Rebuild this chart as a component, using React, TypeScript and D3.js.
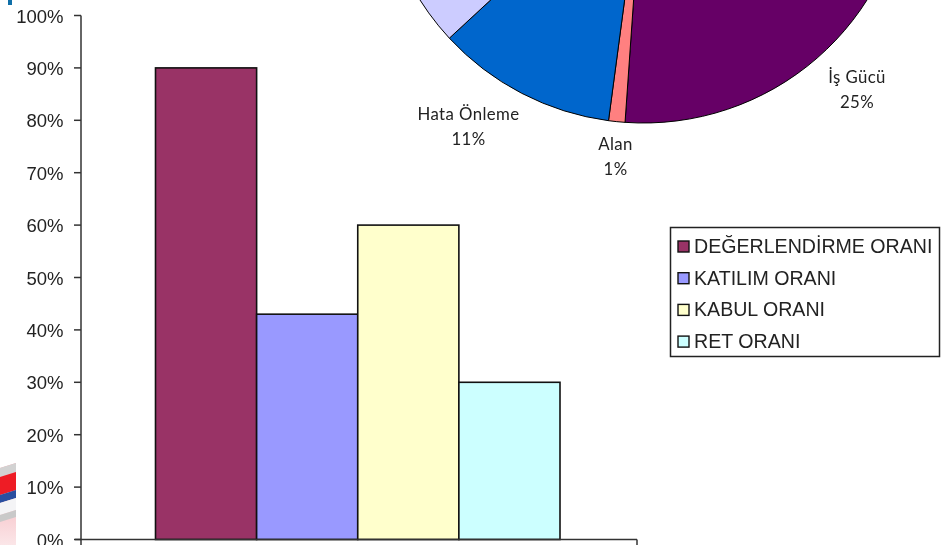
import React from "react";
import * as d3 from "d3";

const seriesNames = ["DEĞERLENDİRME ORANI", "KATILIM ORANI", "KABUL ORANI", "RET ORANI"];
const seriesValues = [90, 43, 60, 30];
const seriesColors = ["#993366", "#9999ff", "#ffffcc", "#ccffff"];
const yTicks = [0, 10, 20, 30, 40, 50, 60, 70, 80, 90, 100];

const pieNames = ["İş Gücü", "Alan", "Hata Önleme", "Diğer"];
const pieValues = [25, 1, 11, 63];
const pieColors = ["#660066", "#ff8080", "#0066cc", "#ccccff"];
const pieLabelled = [true, true, true, false];
const pieLabelPos: [number, number][] = [[857, 78], [615.5, 145], [468.5, 115], [0, 0]];

const FONT = "'Liberation Sans', Arial, sans-serif";
const PIE_FONT = "Lato, Carlito, sans-serif";

export default function App() {
  const y = d3.scaleLinear().domain([0, 100]).range([539.5, 15.5]);
  const x = d3.scaleBand<string>().domain(seriesNames).range([155.5, 560]).paddingInner(0);

  const deg = Math.PI / 180;
  const pie = d3.pie<number>().sort(null).startAngle(94 * deg).endAngle(454 * deg);
  const arcs = pie(pieValues);
  const arc = d3.arc<d3.PieArcDatum<number>>().innerRadius(0).outerRadius(264.6);

  return (
    <svg width={942} height={545} style={{ position: "fixed", left: 0, top: 0, background: "#fff" }}>
      <defs>
        <filter id="soft" x="-5%" y="-5%" width="110%" height="110%">
          <feGaussianBlur stdDeviation="0.4" />
        </filter>
        <linearGradient id="pinkFade" x1="0" y1="0" x2="0" y2="1">
          <stop offset="0" stopColor="#f4a6ae" />
          <stop offset="1" stopColor="#fbe6e8" />
        </linearGradient>
      </defs>

      {/* background logo fragments */}
      <rect x={8} y={0} width={4} height={5} fill="#0f6fa8" />
      <polygon points="0,468 16,463 16,545 0,545" fill="url(#pinkFade)" />
      <polygon points="0,468 16,463 16,472 0,477" fill="#d2d2d2" />
      <polygon points="0,477 16,472 16,490 0,495" fill="#ee1c25" />
      <polygon points="0,495 16,490 16,498 0,503" fill="#2a4fa0" />
      <polygon points="0,503 16,498 16,510 0,515" fill="#f4f4f6" />
      <polygon points="0,515 16,510 16,517 0,522" fill="#c9c9c9" />

      {/* pie */}
      <g transform="translate(643.5,-141.6)">
        {arcs.map((a, i) => (
          <path key={pieNames[i]} d={arc(a) ?? ""} fill={pieColors[i]} stroke="#000" strokeWidth={1} />
        ))}
      </g>
      <g filter="url(#soft)" fontFamily={PIE_FONT} fontSize={16.8} fill="#222" textAnchor="middle" letterSpacing={0.4}>
        {pieNames.map((n, i) =>
          pieLabelled[i] ? (
            <g key={n}>
              <text x={pieLabelPos[i][0]} y={pieLabelPos[i][1] + 5}>{n}</text>
              <text x={pieLabelPos[i][0]} y={pieLabelPos[i][1] + 30}>{pieValues[i]}%</text>
            </g>
          ) : null
        )}
      </g>

      {/* bars */}
      {seriesNames.map((n, i) => (
        <rect
          key={n}
          x={x(n)!}
          y={y(seriesValues[i])}
          width={x.bandwidth()}
          height={y(0) - y(seriesValues[i])}
          fill={seriesColors[i]}
          stroke="#111"
          strokeWidth={1.6}
        />
      ))}

      {/* axes */}
      <g stroke="#333" strokeWidth={1.5} fill="none">
        <line x1={81} x2={81} y1={y(100)} y2={545} />
        <line x1={75} x2={637} y1={y(0)} y2={y(0)} />
        <line x1={637} x2={637} y1={y(0)} y2={545} />
        {yTicks.map((t) => (
          <line key={t} x1={74} x2={81} y1={y(t)} y2={y(t)} />
        ))}
      </g>
      <g filter="url(#soft)" fontFamily={FONT} fontSize={18.5} fill="#222" textAnchor="end">
        {yTicks.map((t) => (
          <text key={t} x={63.5} y={y(t) + 7}>{t}%</text>
        ))}
      </g>

      {/* legend */}
      <rect x={670.5} y={227.5} width={269} height={129} fill="#fff" stroke="#222" strokeWidth={1.5} />
      {seriesNames.map((n, i) => {
        const cy = 246.5 + i * 31.7;
        return (
          <g key={n}>
            <rect x={678} y={cy - 5.5} width={11} height={11} fill={seriesColors[i]} stroke="#111" strokeWidth={1.4} />
            <text filter="url(#soft)" x={694} y={cy + 6.5} fontFamily={FONT} fontSize={19.6} fill="#222">{n}</text>
          </g>
        );
      })}
    </svg>
  );
}
